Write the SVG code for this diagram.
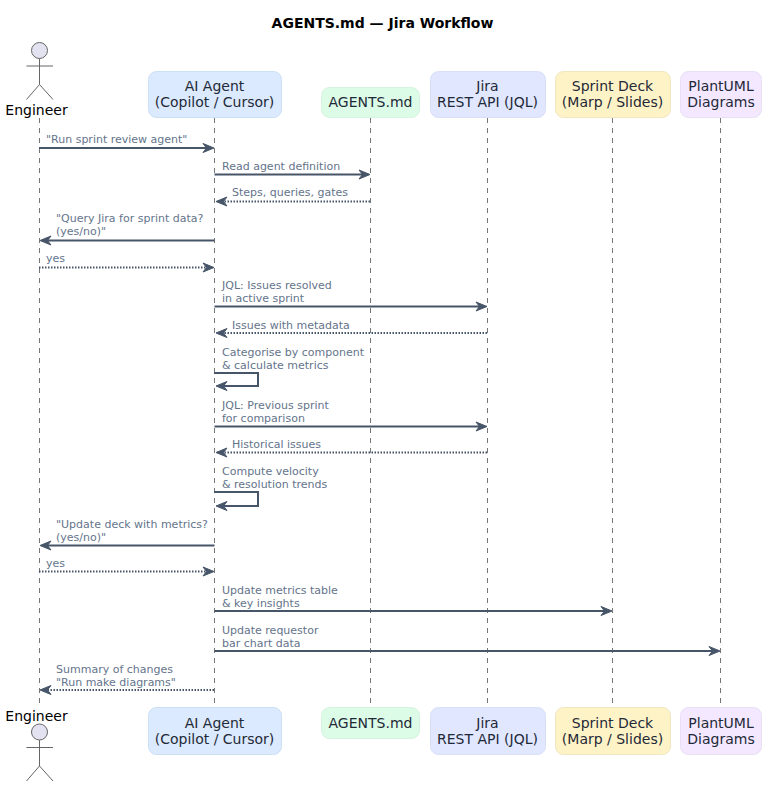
<svg xmlns="http://www.w3.org/2000/svg" width="771" height="790" viewBox="0 0 771 790">
<style>
text{font-family:"DejaVu Sans",sans-serif}
.title{font-size:14px;font-weight:bold;fill:#000}
.n{font-size:14px;fill:#1f2937;text-anchor:middle}
.a{font-size:14px;fill:#000;text-anchor:middle}
.m{font-size:11px;fill:#64748b}
.life{stroke:#777;stroke-width:1;stroke-dasharray:5 5;fill:none}
.s{stroke:#475569;stroke-width:2;fill:none}
.d{stroke:#475569;stroke-width:2;stroke-dasharray:1.500 1.500;fill:none}
.head{fill:#475569;stroke:#475569;stroke-width:1;stroke-linejoin:round}
.actor{fill:#e2e2f0;stroke:#666;stroke-width:1}
.limb{fill:none;stroke:#666;stroke-width:1}
.b{stroke-width:1}
</style>
<defs>
<path id="ar" class="head" d="M0 0L-11 -4.500L-7.500 0L-11 4.500Z"/>
<path id="al" class="head" d="M0 0L11 -4.500L7.500 0L11 4.500Z"/>
<g id="stick">
<circle class="actor" cx="39.5" cy="0" r="8"/>
<path class="limb" d="M39.5 8V34M26.5 15.500H53M39.500 34L26.500 49M39.500 34L53 49"/>
</g>
</defs>
<rect width="771" height="790" fill="#fff"/>
<text class="title" x="382.500" y="28" text-anchor="middle">AGENTS.md — Jira Workflow</text>
<g id="connectors">
<path class="life" d="M39.500 118V703M214.500 118V703M370.500 118V703M487.500 118V703M612.500 118V703M720.500 118V703"/>
<path class="s" d="M39 148H210"/><use href="#ar" x="214" y="148"/>
<path class="s" d="M214.500 174.500H366"/><use href="#ar" x="370" y="174.500"/>
<path class="d" d="M370 201.500H220"/><use href="#al" x="216" y="201.500"/>
<path class="s" d="M214.500 240.500H44"/><use href="#al" x="40" y="240.500"/>
<path class="d" d="M39 267.500H210"/><use href="#ar" x="214" y="267.500"/>
<path class="s" d="M214.500 306.500H483"/><use href="#ar" x="487" y="306.500"/>
<path class="d" d="M487 333H220"/><use href="#al" x="216" y="333"/>
<path class="s" d="M214 373H258V386H220"/><use href="#al" x="216" y="386"/>
<path class="s" d="M214.500 426.500H483"/><use href="#ar" x="487" y="426.500"/>
<path class="d" d="M487 452.500H220"/><use href="#al" x="216" y="452.500"/>
<path class="s" d="M214 492H258V506H220"/><use href="#al" x="216" y="506"/>
<path class="s" d="M214.500 545.500H44"/><use href="#al" x="40" y="545.500"/>
<path class="d" d="M39 571.500H210"/><use href="#ar" x="214" y="571.500"/>
<path class="s" d="M214.500 611H608"/><use href="#ar" x="612" y="611"/>
<path class="s" d="M214.500 651H716"/><use href="#ar" x="720" y="651"/>
<path class="d" d="M214 690H44"/><use href="#al" x="40" y="690"/>
</g>
<g id="labels">
<text class="m" x="46" y="143">"Run sprint review agent"</text>
<text class="m" x="222" y="170">Read agent definition</text>
<text class="m" x="232" y="196">Steps, queries, gates</text>
<text class="m" x="56" y="222">"Query Jira for sprint data?</text><text class="m" x="56" y="235">(yes/no)"</text>
<text class="m" x="46" y="262">yes</text>
<text class="m" x="222" y="288.700">JQL: Issues resolved</text><text class="m" x="222" y="302">in active sprint</text>
<text class="m" x="232" y="329">Issues with metadata</text>
<text class="m" x="222" y="355.700">Categorise by component</text><text class="m" x="222" y="369">&amp; calculate metrics</text>
<text class="m" x="222" y="408.700">JQL: Previous sprint</text><text class="m" x="222" y="422">for comparison</text>
<text class="m" x="232" y="448">Historical issues</text>
<text class="m" x="222" y="474.700">Compute velocity</text><text class="m" x="222" y="488">&amp; resolution trends</text>
<text class="m" x="56" y="527.700">"Update deck with metrics?</text><text class="m" x="56" y="541">(yes/no)"</text>
<text class="m" x="46" y="567">yes</text>
<text class="m" x="222" y="593.700">Update metrics table</text><text class="m" x="222" y="607">&amp; key insights</text>
<text class="m" x="222" y="633.700">Update requestor</text><text class="m" x="222" y="647">bar chart data</text>
<text class="m" x="56" y="673">Summary of changes</text><text class="m" x="56" y="686">"Run make diagrams"</text>
</g>
<g id="engineer-top"><use href="#stick" y="50.500"/><text class="a" x="36.500" y="115">Engineer</text></g>
<g id="agent-top"><rect class="b" x="148.500" y="71.500" width="133" height="46" rx="8" fill="#dbeafe" stroke="#cbdff5"/><text class="n" x="214.500" y="91">AI Agent</text><text class="n" x="214.500" y="107">(Copilot / Cursor)</text></g>
<g id="agentsmd-top"><rect class="b" x="321.500" y="87.500" width="98" height="30" rx="8" fill="#dcfce7" stroke="#d6f3e0"/><text class="n" x="370.500" y="107">AGENTS.md</text></g>
<g id="jira-top"><rect class="b" x="430.500" y="71.500" width="115" height="46" rx="8" fill="#e0e7ff" stroke="#d8e0f8"/><text class="n" x="487.500" y="91">Jira</text><text class="n" x="487.500" y="107">REST API (JQL)</text></g>
<g id="deck-top"><rect class="b" x="555.500" y="71.500" width="115" height="46" rx="8" fill="#fef3c7" stroke="#f0e6c0"/><text class="n" x="612.500" y="91">Sprint Deck</text><text class="n" x="612.500" y="107">(Marp / Slides)</text></g>
<g id="plantuml-top"><rect class="b" x="680.500" y="71.500" width="81" height="46" rx="8" fill="#f3e8ff" stroke="#e8dff5"/><text class="n" x="721" y="91">PlantUML</text><text class="n" x="721" y="107">Diagrams</text></g>
<g id="engineer-bottom"><text class="a" x="36.500" y="721">Engineer</text><use href="#stick" y="732"/></g>
<g id="agent-bottom"><rect class="b" x="148.500" y="707.500" width="133" height="47" rx="8" fill="#dbeafe" stroke="#cbdff5"/><text class="n" x="214.500" y="728">AI Agent</text><text class="n" x="214.500" y="744">(Copilot / Cursor)</text></g>
<g id="agentsmd-bottom"><rect class="b" x="321.500" y="707.500" width="98" height="31" rx="8" fill="#dcfce7" stroke="#d6f3e0"/><text class="n" x="370.500" y="728">AGENTS.md</text></g>
<g id="jira-bottom"><rect class="b" x="430.500" y="707.500" width="115" height="47" rx="8" fill="#e0e7ff" stroke="#d8e0f8"/><text class="n" x="487.500" y="728">Jira</text><text class="n" x="487.500" y="744">REST API (JQL)</text></g>
<g id="deck-bottom"><rect class="b" x="555.500" y="707.500" width="115" height="47" rx="8" fill="#fef3c7" stroke="#f0e6c0"/><text class="n" x="612.500" y="728">Sprint Deck</text><text class="n" x="612.500" y="744">(Marp / Slides)</text></g>
<g id="plantuml-bottom"><rect class="b" x="680.500" y="707.500" width="81" height="47" rx="8" fill="#f3e8ff" stroke="#e8dff5"/><text class="n" x="721" y="728">PlantUML</text><text class="n" x="721" y="744">Diagrams</text></g>
</svg>
